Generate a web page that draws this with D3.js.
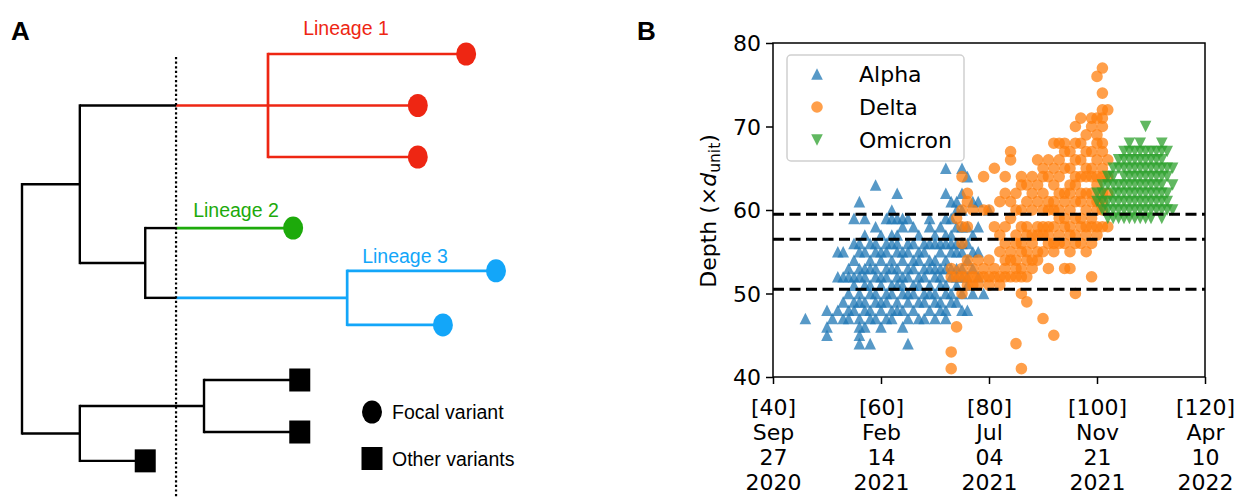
<!DOCTYPE html>
<html>
<head>
<meta charset="utf-8">
<script src="https://cdn.jsdelivr.net/npm/d3@7"></script>
<style>
  body { margin: 0; background: #fff; }
  svg { display: block; }
</style>
</head>
<body>
<svg id="fig" width="1238" height="498"></svg>
<script>
// ---------------- Panel A: schematic tree ----------------
// t = branching time (arbitrary units, 0 = root), row = leaf order (top to bottom)
const treeNodes = [
  { id: "root", parent: null,   t: 0 },
  { id: "n1",   parent: "root", t: 12.2 },
  { id: "L1",   parent: "n1",   t: 51.9, lineage: 1 },
  { id: "L1a",  parent: "L1",   t: 93.7, row: 0 },
  { id: "L1b",  parent: "L1",   t: 83.5, row: 1 },
  { id: "L1c",  parent: "L1",   t: 83.5, row: 2 },
  { id: "n2",   parent: "n1",   t: 26 },
  { id: "L2a",  parent: "n2",   t: 57.2, row: 3.38, lineage: 2 },
  { id: "L3",   parent: "n2",   t: 68.6, lineage: 3 },
  { id: "L3a",  parent: "L3",   t: 100,  row: 4.21 },
  { id: "L3b",  parent: "L3",   t: 88.8, row: 5.26 },
  { id: "n3",   parent: "root", t: 12.2 },
  { id: "n4",   parent: "n3",   t: 38.4 },
  { id: "o1",   parent: "n4",   t: 58.6, row: 6.33 },
  { id: "o2",   parent: "n4",   t: 58.6, row: 7.34 },
  { id: "o3",   parent: "n3",   t: 26,   row: 7.9 }
];
const cutTime = 32.5;
const lineageNames = ["Lineage 1", "Lineage 2", "Lineage 3"];
const lineageColors = ["#ee2613", "#1daa0b", "#13a6f9"];
const treeLegend = ["Focal variant", "Other variants"];

// ---------------- Panel B: depth over time ----------------
// [week index, depths observed that week]
const alphaByWeek = [
  [46, [47]],
  [50, [48, 46, 45]],
  [51, [47]],
  [52, [55, 52, 48]],
  [53, [55, 52, 49, 47]],
  [54, [53, 52, 50, 48, 47]],
  [55, [59, 56, 54, 52, 51, 49, 48]],
  [56, [61, 56, 55, 53, 52, 50, 49, 47, 46, 45, 44]],
  [57, [59, 57, 55, 53, 52, 51, 49, 48, 46]],
  [58, [56, 54, 53, 51, 50, 48, 47, 44]],
  [59, [63, 58, 56, 55, 53, 52, 50, 49, 47]],
  [60, [57, 55, 54, 52, 51, 49, 48, 46]],
  [61, [59, 56, 55, 53, 52, 50, 49, 47]],
  [62, [60, 59, 57, 56, 54, 53, 51, 50, 48, 47]],
  [63, [62, 59, 57, 56, 55, 53, 52, 51, 49, 48]],
  [64, [59, 58, 55, 54, 52, 51, 50, 48, 46]],
  [65, [59, 56, 55, 53, 52, 50, 49, 47, 44]],
  [66, [58, 56, 54, 53, 51, 50, 48]],
  [67, [57, 55, 54, 52, 51, 49, 47]],
  [68, [56, 55, 53, 52, 50, 49, 47]],
  [69, [59, 58, 56, 54, 53, 51, 50, 48]],
  [70, [57, 56, 54, 53, 52, 50, 49, 47]],
  [71, [58, 56, 55, 53, 52, 51, 49, 48]],
  [72, [65, 62, 59, 57, 56, 54, 53, 51, 50, 48, 47]],
  [73, [61, 59, 57, 56, 55, 53, 52, 50, 49]],
  [74, [61, 60, 58, 56, 55, 53, 52, 51, 49]],
  [75, [65, 62, 60, 58, 56, 55, 53, 52, 50, 48]],
  [76, [64, 58, 56, 54, 52, 51, 48]],
  [77, [61, 57, 55, 53, 50]],
  [78, [61, 58, 55, 52]],
  [79, [50]],
  [80, [60]]
];
const deltaByWeek = [
  [73, [53, 52, 43, 41]],
  [74, [59, 52, 46]],
  [75, [64, 60, 58, 56, 53, 52, 50]],
  [76, [62, 61, 58, 54, 52, 51]],
  [77, [60, 53, 52, 51]],
  [78, [54, 52, 51]],
  [79, [64, 60, 53, 52]],
  [80, [60, 54, 52, 51]],
  [81, [65, 58, 53, 52]],
  [82, [61, 57, 55, 52, 51]],
  [83, [64, 62, 58, 56, 54, 53, 52]],
  [84, [67, 66, 61, 59, 55, 54, 52]],
  [85, [62, 60, 57, 56, 54, 53, 52, 44]],
  [86, [64, 63, 60, 58, 56, 55, 53, 52, 50, 41]],
  [87, [63, 61, 58, 57, 55, 54, 52, 49]],
  [88, [64, 62, 60, 57, 56, 54, 53]],
  [89, [66, 63, 61, 58, 57, 55, 54]],
  [90, [65, 64, 62, 60, 58, 57, 55, 47]],
  [91, [66, 64, 61, 60, 58, 57, 56, 53]],
  [92, [68, 65, 63, 61, 60, 58, 56, 55, 45]],
  [93, [68, 66, 64, 62, 60, 59, 57, 56]],
  [94, [68, 67, 65, 62, 61, 59, 58, 56, 53]],
  [95, [67, 65, 63, 62, 60, 58, 57, 55, 53]],
  [96, [70, 68, 66, 64, 63, 61, 59, 57, 56, 50]],
  [97, [71, 68, 66, 64, 62, 61, 59, 58, 56]],
  [98, [69, 67, 65, 64, 62, 60, 58, 57, 55]],
  [99, [71, 70, 67, 65, 64, 62, 61, 59, 58, 56, 52]],
  [100, [76, 71, 69, 68, 66, 64, 63, 61, 60, 58, 57]],
  [101, [77, 74, 72, 71, 70, 68, 67, 65, 64, 62, 61, 60, 58]],
  [102, [72, 66, 64, 62, 58]]
];
const omicronByWeek = [
  [100, [62, 61]],
  [101, [63, 62, 61, 60]],
  [102, [64, 63, 61, 60, 59]],
  [103, [65, 64, 63, 62, 61, 60, 59]],
  [104, [66, 65, 63, 62, 61, 60, 59]],
  [105, [67, 66, 65, 64, 63, 62, 61, 60, 59]],
  [106, [68, 67, 66, 65, 64, 63, 62, 61, 60, 59]],
  [107, [67, 66, 65, 64, 63, 62, 61, 60, 59]],
  [108, [68, 67, 66, 65, 64, 63, 62, 61, 60, 59]],
  [109, [70, 67, 66, 65, 64, 63, 62, 61, 60, 59]],
  [110, [67, 66, 65, 64, 63, 62, 61, 60, 59]],
  [111, [67, 66, 65, 64, 63, 62, 61, 60]],
  [112, [68, 67, 66, 65, 64, 63, 62, 61, 60, 59]],
  [113, [67, 65, 64, 62, 61, 60]],
  [114, [65, 63, 60]]
];
const seriesNames = ["Alpha", "Delta", "Omicron"];
const seriesColors = ["#1f77b4", "#ff7f0e", "#2ca02c"];
const depthThresholds = [59.5, 56.5, 50.5];
const xTickWeeks = [40, 60, 80, 100, 120];
const xTickMonth = ["Sep", "Feb", "Jul", "Nov", "Apr"];
const xTickDay = ["27", "14", "04", "21", "10"];
const xTickYear = ["2020", "2021", "2021", "2021", "2022"];
const yTicks = [40, 50, 60, 70, 80];

const svg = d3.select("#fig");
const helv = "Liberation Sans, Arial, sans-serif";

// ================= Panel A =================
const A = svg.append("g");
const tx = d3.scaleLinear().domain([0, 100]).range([22, 496]);
const ty = d3.scaleLinear().domain([0, 8]).range([54, 466]);

const root = d3.stratify().id(d => d.id).parentId(d => d.parent)(treeNodes);
// inherit lineage down the tree
root.each(n => {
  n.lineage = n.data.lineage || (n.parent ? n.parent.lineage : 0);
  n.x = tx(n.data.t);
});
root.eachAfter(n => {
  if (n.children) {
    const ys = n.children.map(c => c.y);
    n.y = (d3.min(ys) + d3.max(ys)) / 2;
  } else {
    n.y = ty(n.data.row);
  }
});
const colorOf = n => n.lineage ? lineageColors[n.lineage - 1] : "#000";
const xCut = tx(cutTime);

// horizontal branches, split at the cut time when entering a lineage
const segs = [];
root.descendants().forEach(n => {
  if (!n.parent) return;
  const x0 = n.parent.x, x1 = n.x;
  if (n.lineage && x0 < xCut) {
    segs.push({ x0, x1: xCut, y: n.y, c: "#000" });
    segs.push({ x0: xCut, x1, y: n.y, c: colorOf(n) });
  } else {
    segs.push({ x0, x1, y: n.y, c: colorOf(n) });
  }
});
// vertical connectors
root.descendants().filter(n => n.children).forEach(n => {
  const ys = n.children.map(c => c.y);
  const c = n.x >= xCut && n.lineage ? colorOf(n) : "#000";
  segs.push({ x0: n.x, x1: n.x, y0: d3.min(ys), y1: d3.max(ys), c, v: true });
});

A.selectAll("line.branch").data(segs).join("line")
  .attr("class", "branch")
  .attr("x1", d => d.x0).attr("x2", d => d.x1)
  .attr("y1", d => d.v ? d.y0 - 1.2 : d.y).attr("y2", d => d.v ? d.y1 + 1.2 : d.y)
  .attr("stroke", d => d.c)
  .attr("stroke-width", d => d.c === "#000" ? 2.4 : 2.7);

// dotted cut line
A.append("line")
  .attr("x1", xCut).attr("x2", xCut).attr("y1", 57).attr("y2", 498)
  .attr("stroke", "#000").attr("stroke-width", 2.2)
  .attr("stroke-dasharray", "2.2,2.4");

// leaf markers
const leaves = root.leaves();
A.selectAll("ellipse.focal").data(leaves.filter(n => n.lineage)).join("ellipse")
  .attr("class", "focal")
  .attr("cx", d => d.x).attr("cy", d => d.y).attr("rx", 10).attr("ry", 11.5)
  .attr("fill", d => colorOf(d));
A.selectAll("rect.other").data(leaves.filter(n => !n.lineage)).join("rect")
  .attr("class", "other")
  .attr("x", d => d.x - 10.5).attr("y", d => d.y - 11.5).attr("width", 21).attr("height", 23)
  .attr("fill", "#000");

// lineage labels
const lineageLabelPos = [[346, 35], [236, 217], [405, 263]];
A.selectAll("text.lin").data(lineageNames).join("text")
  .attr("class", "lin")
  .attr("x", (d, i) => lineageLabelPos[i][0]).attr("y", (d, i) => lineageLabelPos[i][1])
  .attr("text-anchor", "middle")
  .attr("font-family", helv).attr("font-size", 19.5)
  .attr("fill", (d, i) => lineageColors[i])
  .text(d => d);

// tree legend
A.append("ellipse").attr("cx", 372).attr("cy", 412).attr("rx", 10).attr("ry", 11.5).attr("fill", "#000");
A.append("rect").attr("x", 361.5).attr("y", 447).attr("width", 21).attr("height", 23).attr("fill", "#000");
A.selectAll("text.tleg").data(treeLegend).join("text")
  .attr("class", "tleg")
  .attr("x", 392).attr("y", (d, i) => [419, 466][i])
  .attr("font-family", helv).attr("font-size", 19.5)
  .attr("fill", "#000").text(d => d);

// panel letters
svg.selectAll("text.panel").data([["A", 11], ["B", 637]]).join("text")
  .attr("class", "panel")
  .attr("x", d => d[1]).attr("y", 40)
  .attr("font-family", helv)
  .attr("font-weight", "bold").attr("font-size", 26)
  .text(d => d[0]);

// ================= Panel B =================
const B = svg.append("g");
const pL = 773, pR = 1205, pT = 43, pB = 377;
const x = d3.scaleLinear().domain([40, 120]).range([pL, pR]);
const y = d3.scaleLinear().domain([40, 80]).range([pB, pT]);
const mpl = "DejaVu Sans, sans-serif";
const fs = 22;

const flatten = arr => arr.flatMap(([w, ds]) => ds.map(d => ({ w, d })));
const series = [alphaByWeek, deltaByWeek, omicronByWeek].map(flatten);

const s = 5.8;
const markerPath = [
  `M0,${-s}L${s},${s}L${-s},${s}Z`,              // triangle up
  d3.symbol(d3.symbolCircle, Math.PI * s * s)(), // circle
  `M0,${s}L${s},${-s}L${-s},${-s}Z`              // triangle down
];

series.forEach((pts, i) => {
  B.append("g").selectAll("path").data(pts).join("path")
    .attr("d", markerPath[i])
    .attr("transform", p => `translate(${x(p.w)},${y(p.d)})`)
    .attr("fill", seriesColors[i])
    .attr("fill-opacity", 0.75);
});

// threshold lines
B.selectAll("line.thr").data(depthThresholds).join("line")
  .attr("class", "thr")
  .attr("x1", pL).attr("x2", pR)
  .attr("y1", d => y(d)).attr("y2", d => y(d))
  .attr("stroke", "#000").attr("stroke-width", 3)
  .attr("stroke-dasharray", "11,5.5");

// frame
B.append("rect").attr("x", pL).attr("y", pT)
  .attr("width", pR - pL).attr("height", pB - pT)
  .attr("fill", "none").attr("stroke", "#000").attr("stroke-width", 1.5);

// axes
const yAxis = B.append("g").attr("transform", `translate(${pL},0)`)
  .call(d3.axisLeft(y).tickValues(yTicks).tickSize(7).tickPadding(5));
const xAxis = B.append("g").attr("transform", `translate(0,${pB})`)
  .call(d3.axisBottom(x).tickValues(xTickWeeks).tickSize(7).tickPadding(5));
[yAxis, xAxis].forEach(g => {
  g.select(".domain").remove();
  g.selectAll(".tick line").attr("stroke", "#000").attr("stroke-width", 1.5);
  g.selectAll(".tick text").attr("font-family", mpl).attr("font-size", fs).attr("fill", "#000");
});
yAxis.selectAll(".tick text").attr("dy", "0.36em");
xAxis.selectAll(".tick text").each(function (d, i) {
  const t = d3.select(this).text(null).attr("y", 0).attr("dy", null);
  const lines = [`[${d}]`, xTickMonth[i], xTickDay[i], xTickYear[i]];
  lines.forEach((ln, k) => {
    t.append("tspan").attr("x", 0).attr("y", 38 + k * 25).text(ln);
  });
});

// y label
const yl = B.append("text")
  .attr("transform", `translate(716,211) rotate(-90)`)
  .attr("text-anchor", "middle")
  .attr("font-family", mpl).attr("font-size", fs).attr("fill", "#000");
yl.append("tspan").text("Depth (×");
yl.append("tspan").attr("font-style", "italic").text("d");
yl.append("tspan").attr("font-size", 15.5).attr("dy", 4).text("unit");
yl.append("tspan").attr("dy", -4).text(")");

// legend
const lg = B.append("g");
lg.append("rect").attr("x", 787).attr("y", 55).attr("width", 177).attr("height", 106)
  .attr("rx", 4).attr("fill", "#fff").attr("fill-opacity", 0.8)
  .attr("stroke", "#d0d0d0").attr("stroke-width", 1.5);
const rowY = [74, 107, 140];
seriesNames.forEach((nm, i) => {
  lg.append("path").attr("d", markerPath[i])
    .attr("transform", `translate(817,${rowY[i]})`)
    .attr("fill", seriesColors[i]).attr("fill-opacity", 0.75);
  lg.append("text").attr("x", 859).attr("y", rowY[i]).attr("dy", "0.36em")
    .attr("font-family", mpl).attr("font-size", fs).attr("fill", "#000").text(nm);
});
</script>
</body>
</html>
